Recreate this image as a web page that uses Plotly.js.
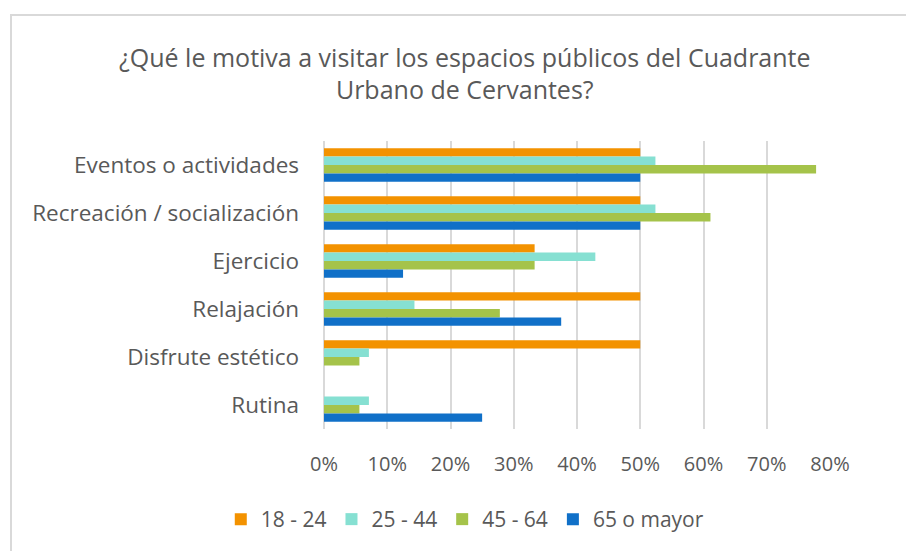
<!DOCTYPE html>
<html>
<head>
<meta charset="utf-8">
<script src="https://cdn.plot.ly/plotly-3.0.1.min.js"></script>
<style>
html,body{margin:0;padding:0;background:#fff;}
#wrap{position:relative;width:906px;height:551px;overflow:hidden;}
#chart{position:absolute;left:0;top:0;width:906px;height:551px;}
#frame{position:absolute;left:10px;top:14px;width:910px;height:560px;border:2px solid #d9d9d9;box-sizing:border-box;pointer-events:none;}
</style>
</head>
<body>
<div id="wrap"><div id="chart"></div><div id="frame"></div></div>
<script>
const categories = ["Eventos o actividades", "Recreación / socialización", "Ejercicio", "Relajación", "Disfrute estético", "Rutina"];
const seriesNames = ["18 - 24", "25 - 44", "45 - 64", "65 o mayor"];
const s18_24 = [50.0, 50.0, 33.3, 50.0, 50.0, 0];
const s25_44 = [52.4, 52.4, 42.9, 14.3, 7.1, 7.1];
const s45_64 = [77.8, 61.1, 33.3, 27.8, 5.6, 5.6];
const s65 = [50.0, 50.0, 12.5, 37.5, 0, 25.0];
const tickVals = [0, 10, 20, 30, 40, 50, 60, 70, 80];
const tickText = ["0%", "10%", "20%", "30%", "40%", "50%", "60%", "70%", "80%"];
const colors = ["#F39200", "#86E0D2", "#A5C34A", "#1070C8"];
const allSeries = [s18_24, s25_44, s45_64, s65];

const font = "'Open Sans', 'Noto Sans', sans-serif";
const data = allSeries.map((vals, i) => ({
  type: 'bar',
  orientation: 'h',
  name: seriesNames[i],
  x: vals,
  y: categories,
  marker: {color: colors[i]},
  hoverinfo: 'x+y'
}));

const layout = {
  width: 906, height: 551,
  margin: {l: 324, r: 76, t: 141, b: 122},
  paper_bgcolor: '#fff', plot_bgcolor: '#fff',
  font: {family: font, color: '#595959'},
  title: {
    text: '¿Qué le motiva a visitar los espacios públicos del Cuadrante<br>Urbano de Cervantes?',
    font: {size: 25, color: '#595959', family: font},
    x: 0.513, xanchor: 'center', y: 0.879, yanchor: 'top', xref: 'container', yref: 'container'
  },
  barmode: 'group',
  bargap: 0.3,
  bargroupgap: 0,
  xaxis: {
    range: [0, 80], tickvals: tickVals, ticktext: tickText,
    showgrid: true, gridcolor: '#d9d9d9', gridwidth: 2,
    zeroline: true, zerolinecolor: '#d9d9d9', zerolinewidth: 2,
    showline: false, ticks: '',
    tickfont: {size: 20, color: '#595959', family: font},
    ticklabelstandoff: 21, fixedrange: true
  },
  yaxis: {
    autorange: 'reversed', ticks: '', showline: false, showgrid: false,
    tickfont: {size: 22.5, color: '#595959', family: font},
    ticklabelstandoff: 24, fixedrange: true
  },
  legend: {
    orientation: 'h', x: 0.513, xanchor: 'center', xref: 'container',
    y: 0.02, yanchor: 'bottom', yref: 'container',
    font: {size: 21, color: '#595959', family: font},
    traceorder: 'normal', itemwidth: 30
  },
  showlegend: true
};
Plotly.newPlot('chart', data, layout, {displayModeBar: false, staticPlot: true});
</script>
</body>
</html>
